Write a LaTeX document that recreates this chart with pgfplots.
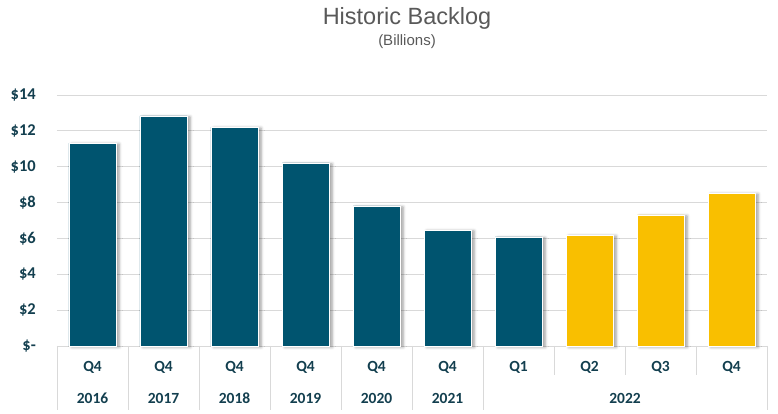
\documentclass[border=0pt]{standalone}
\usepackage{pgfplots}
\pgfplotsset{compat=1.18}
\usepackage{fontspec}
\setmainfont{Carlito}
\newfontfamily\arial{Liberation Sans}
\usetikzlibrary{shadows.blur}

\definecolor{barteal}{HTML}{00546F}
\definecolor{baryellow}{HTML}{F9BF00}
\definecolor{labelblue}{HTML}{133F4F}
\definecolor{gridgray}{HTML}{D9D9D9}
\definecolor{titlegray}{HTML}{595959}

\begin{document}
\begin{tikzpicture}
\path (-57pt,-68pt) rectangle (721pt,346pt);
\node[font=\arial\fontsize{23.5}{26}\selectfont, text=titlegray] at (350pt,328pt) {Historic Backlog};
\node[font=\arial\fontsize{15}{17}\selectfont, text=titlegray] at (350pt,304pt) {(Billions)};
\begin{axis}[
    at={(0,0)}, anchor=south west,
    scale only axis, width=710pt, height=251pt,
    xmin=-0.5, xmax=9.5, ymin=0, ymax=14,
    axis y line*=left,
    y axis line style={draw=none},
    axis x line*=bottom,
    x axis line style={gridgray, line width=0.75pt, -},
    ybar, bar width=47pt, bar shift=0pt,
    ytick={0,2,...,14},
    yticklabels={\$-,\$2,\$4,\$6,\$8,\$10,\$12,\$14},
    ymajorgrids, grid style={gridgray, line width=0.75pt},
    major tick length=0pt,
    xtick={0,...,9},
    xticklabels={Q4,Q4,Q4,Q4,Q4,Q4,Q1,Q2,Q3,Q4},
    xticklabel style={font=\fontsize{15.5}{17}\selectfont\bfseries, text=labelblue, anchor=base, inner sep=0pt, yshift=-26pt},
    yticklabel style={font=\fontsize{16.5}{18}\selectfont\bfseries, text=labelblue, anchor=east, inner sep=0pt, xshift=-21pt},
    clip=false,
]
\addplot[fill=barteal, draw=white, line width=0.6pt,
    blur shadow={shadow xshift=3pt, shadow yshift=-1pt, shadow blur radius=3pt, shadow opacity=40}]
    coordinates {(0,11.32) (1,12.83) (2,12.21) (3,10.21) (4,7.81) (5,6.47) (6,6.08)};
\addplot[fill=baryellow, draw=white, line width=0.6pt,
    blur shadow={shadow xshift=3pt, shadow yshift=-1pt, shadow blur radius=3pt, shadow opacity=40}]
    coordinates {(7,6.19) (8,7.31) (9,8.53)};

% category separators
\foreach \x in {-0.5,0.5,1.5,2.5,3.5,4.5,5.5,9.5}{
  \edef\tmp{\noexpand\draw[gridgray, line width=0.75pt] (axis cs:\x,0) -- ([yshift=-64pt]axis cs:\x,0);}\tmp
}
\foreach \x in {6.5,7.5,8.5}{
  \edef\tmp{\noexpand\draw[gridgray, line width=0.75pt] (axis cs:\x,0) -- ([yshift=-29pt]axis cs:\x,0);}\tmp
}
% year labels
\begin{scope}[every node/.style={font=\fontsize{15.5}{17}\selectfont\bfseries, text=labelblue, anchor=base, inner sep=0pt}]
\node at ([yshift=-57pt]axis cs:0,0) {2016};
\node at ([yshift=-57pt]axis cs:1,0) {2017};
\node at ([yshift=-57pt]axis cs:2,0) {2018};
\node at ([yshift=-57pt]axis cs:3,0) {2019};
\node at ([yshift=-57pt]axis cs:4,0) {2020};
\node at ([yshift=-57pt]axis cs:5,0) {2021};
\node at ([yshift=-57pt]axis cs:7.5,0) {2022};
\end{scope}
\end{axis}
\end{tikzpicture}
\end{document}
